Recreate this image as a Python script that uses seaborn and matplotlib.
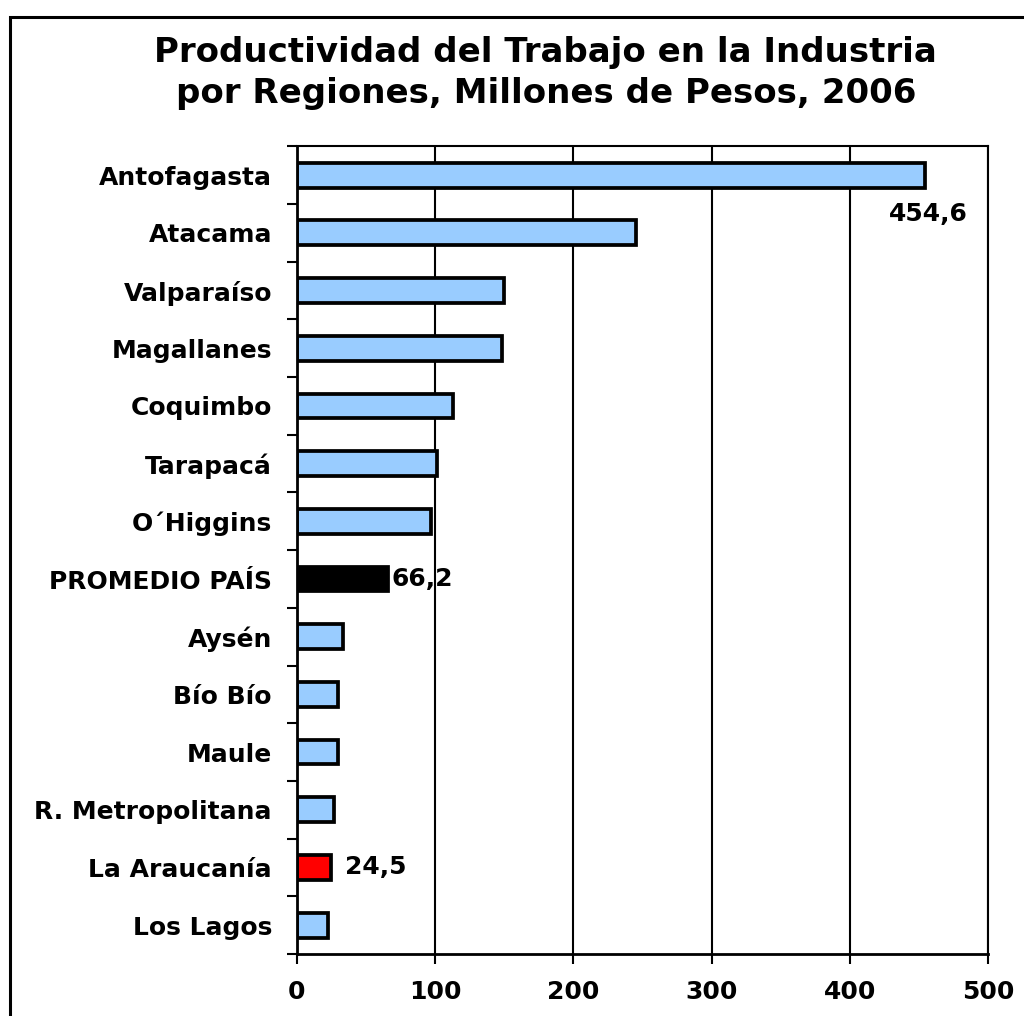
import numpy as np
import pandas as pd
import matplotlib
matplotlib.use("Agg")
import matplotlib.pyplot as plt
import seaborn as sns
from matplotlib.patches import Rectangle

# Data
regiones = ["Antofagasta", "Atacama", "Valparaíso", "Magallanes", "Coquimbo",
            "Tarapacá", "O´Higgins", "PROMEDIO PAÍS", "Aysén", "Bío Bío",
            "Maule", "R. Metropolitana", "La Araucanía", "Los Lagos"]
productividad = [454.6, 245.0, 149.5, 148.0, 113.0, 101.5, 97.0, 66.2,
                 33.5, 29.5, 29.5, 26.5, 24.5, 22.5]
colores = ["#99CCFF"] * 7 + ["#000000"] + ["#99CCFF"] * 4 + ["#FF0000", "#99CCFF"]
etiquetas = {"Antofagasta": "below", "PROMEDIO PAÍS": "right", "La Araucanía": "right"}

df = pd.DataFrame({"region": regiones, "valor": productividad})

sns.set_style("white")
plt.rcParams["font.family"] = ["DejaVu Sans"]
plt.rcParams["text.color"] = "black"
plt.rcParams["xtick.color"] = "black"
plt.rcParams["ytick.color"] = "black"

fig = plt.figure(figsize=(10.24, 10.16), dpi=100)
ax = fig.add_axes([0.290, 0.061, 0.675, 0.795])

sns.barplot(data=df, x="valor", y="region", hue="region", palette=colores,
            saturation=1, legend=False, orient="h", width=0.43,
            edgecolor="black", linewidth=2.7, ax=ax)

ax.set_xlim(0, 500)
ax.set_ylim(len(regiones) - 0.5, -0.5)
ax.set_xticks([0, 100, 200, 300, 400, 500])
ax.set_xlabel("")
ax.set_ylabel("")

ax.set_axisbelow(True)
ax.grid(axis="x", color="black", linewidth=1.5)
ax.grid(axis="y", visible=False)

for side in ["left", "bottom", "top", "right"]:
    ax.spines[side].set_visible(True)
    ax.spines[side].set_color("black")
    ax.spines[side].set_linewidth(1.5)
ax.spines["left"].set_linewidth(2)
ax.spines["bottom"].set_linewidth(2)

ax.set_yticks(np.arange(-0.5, len(regiones), 1.0), minor=True)
ax.tick_params(axis="y", which="major", left=False, length=0, pad=18,
               labelsize=18, labelcolor="black")
ax.tick_params(axis="y", which="minor", left=True, length=7, width=1.5,
               direction="out", color="black")
ax.tick_params(axis="x", which="major", bottom=True, length=7, width=1.5,
               direction="out", color="black", pad=12, labelsize=18,
               labelcolor="black")
for lbl in ax.get_yticklabels() + ax.get_xticklabels():
    lbl.set_fontweight("bold")

# value labels
for i, (reg, val) in enumerate(zip(regiones, productividad)):
    pos = etiquetas.get(reg)
    txt = f"{val:.1f}".replace(".", ",")
    if pos == "below":
        ax.text(val + 2, i + 0.68, txt, ha="center", va="center",
                fontsize=18, fontweight="bold", color="black")
    elif pos == "right":
        off = 2 if reg == "PROMEDIO PAÍS" else 10
        ax.text(val + off, i, txt, ha="left", va="center",
                fontsize=18, fontweight="bold", color="black")

fig.text(0.533, 0.928, "Productividad del Trabajo en la Industria\npor Regiones, Millones de Pesos, 2006",
         ha="center", va="center", fontsize=24.5, fontweight="bold",
         linespacing=1.3, color="black")

# outer border (right and bottom edges fall outside the picture)
fig.patches.append(Rectangle((0.0095, -0.05), 1.05, 1 - 0.017 + 0.05,
                             transform=fig.transFigure, fill=False,
                             edgecolor="black", linewidth=2.2))

fig.savefig("out.png", dpi=100)
